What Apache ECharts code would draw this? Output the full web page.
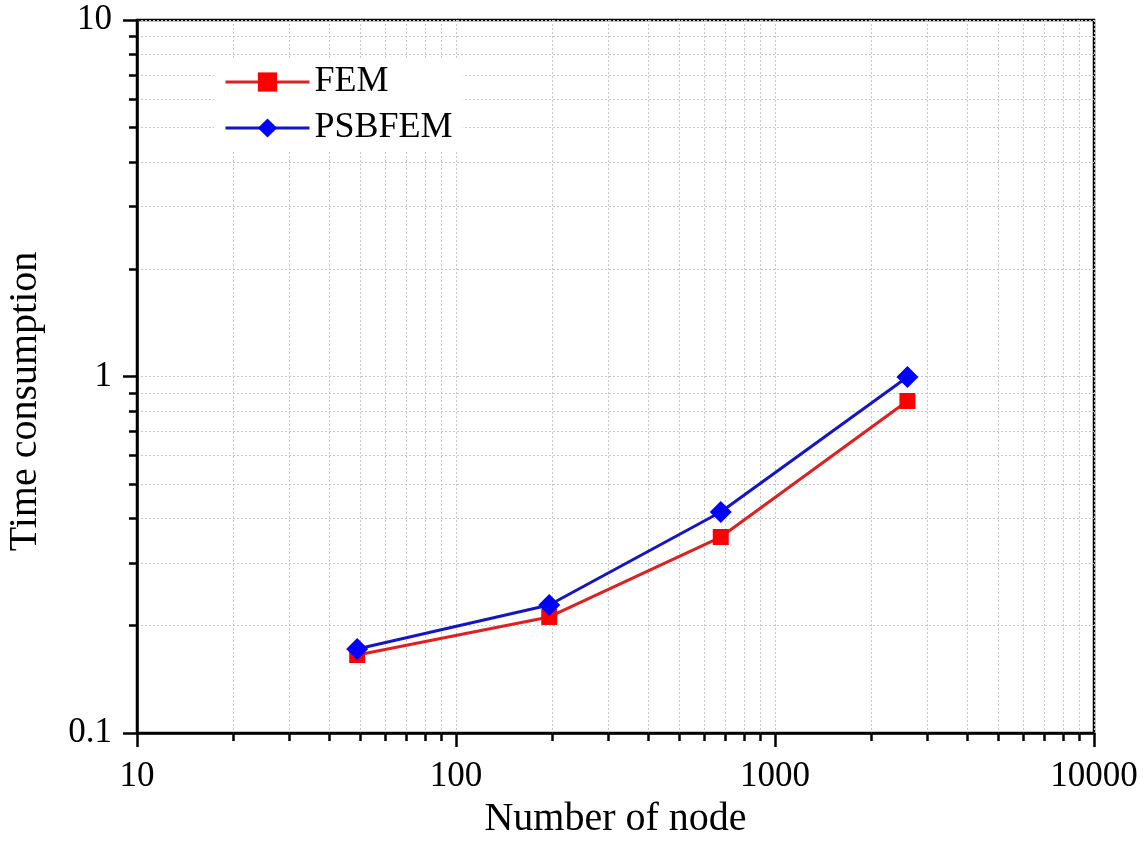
<!DOCTYPE html>
<html>
<head>
<meta charset="utf-8">
<script src="https://cdn.jsdelivr.net/npm/echarts@6/dist/echarts.min.js"></script>
<style>html,body{margin:0;padding:0;background:#fff}#c{width:1148px;height:860px}</style>
</head>
<body>
<div id="c"></div>
<script>
const nodes = [49, 196, 676, 2601];
const femTime = [0.1655, 0.2116, 0.3546, 0.8538];
const psbfemTime = [0.172, 0.2286, 0.4168, 0.997];
const seriesNames = ['FEM', 'PSBFEM'];
const xTitle = 'Number of node';
const yTitle = 'Time consumption';

const font = 'Liberation Serif, Times New Roman, serif';
const chart = echarts.init(document.getElementById('c'));
const dotted = {show: true, lineStyle: {color: '#c8c8c8', type: [2, 2], width: 1}};
chart.setOption({
  animation: false,
  backgroundColor: '#fff',
  grid: {left: 137, right: 54, top: 20, bottom: 127, show: true, borderColor: '#000', borderWidth: 2.5,
         containLabel: false, outerBoundsMode: 'none'},
  legend: {
    orient: 'vertical', left: 214, top: 58, itemWidth: 84, itemHeight: 24, itemGap: 10,
    backgroundColor: '#fff', padding: [6, 10, 6, 10],
    lineStyle: {width: 3},
    textStyle: {fontFamily: font, fontSize: 36, color: '#000'},
    data: seriesNames
  },
  xAxis: {
    type: 'log', logBase: 10, min: 10, max: 10000,
    name: xTitle, nameLocation: 'middle', nameGap: 66,
    nameTextStyle: {fontFamily: font, fontSize: 40, color: '#000'},
    axisLine: {lineStyle: {color: '#000', width: 2.5}},
    axisTick: {show: true, inside: false, length: 14, lineStyle: {color: '#000', width: 2.5}},
    minorTick: {show: true, splitNumber: 9, length: 8, lineStyle: {color: '#000', width: 2.5}},
    splitLine: dotted, minorSplitLine: dotted,
    axisLabel: {fontFamily: font, fontSize: 35, color: '#000', margin: 26, formatter: v => String(v)}
  },
  yAxis: {
    type: 'log', logBase: 10, min: 0.1, max: 10,
    name: yTitle, nameLocation: 'middle', nameGap: 92,
    nameTextStyle: {fontFamily: font, fontSize: 40, color: '#000', padding: [0, 50, 0, 0]},
    axisLine: {lineStyle: {color: '#000', width: 2.5}},
    axisTick: {show: true, inside: false, length: 14, lineStyle: {color: '#000', width: 2.5}},
    minorTick: {show: true, splitNumber: 9, length: 8, lineStyle: {color: '#000', width: 2.5}},
    splitLine: dotted, minorSplitLine: dotted,
    axisLabel: {fontFamily: font, fontSize: 35, color: '#000', margin: 25, formatter: v => String(v)}
  },
  series: [
    {name: seriesNames[0], type: 'line', data: nodes.map((x, i) => [x, femTime[i]]),
     symbol: 'rect', symbolSize: 16, lineStyle: {color: '#e02020', width: 3}, itemStyle: {color: '#ff0000'}},
    {name: seriesNames[1], type: 'line', data: nodes.map((x, i) => [x, psbfemTime[i]]),
     symbol: 'diamond', symbolSize: 22, lineStyle: {color: '#1515c8', width: 3}, itemStyle: {color: '#0000ff'}}
  ]
});
</script>
</body>
</html>
